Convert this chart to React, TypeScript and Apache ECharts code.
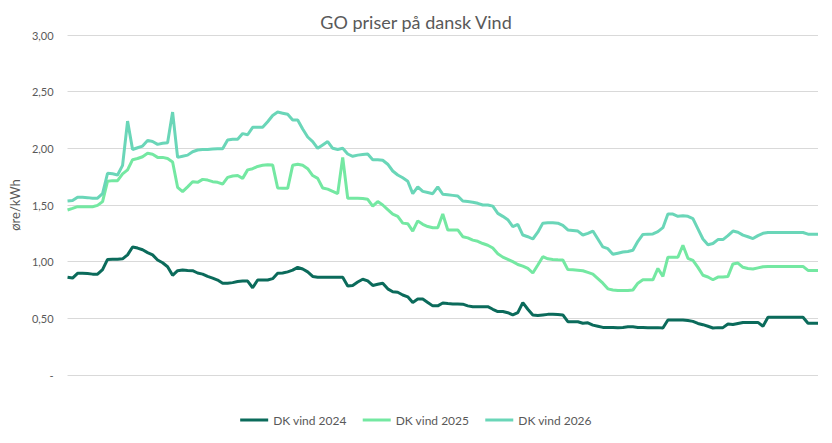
import React, { useEffect, useRef } from "react";
import * as echarts from "echarts";

const seriesNames = ["DK vind 2024", "DK vind 2025", "DK vind 2026"];

const dk2024 = [
  0.862, 0.855, 0.897, 0.897, 0.895, 0.89, 0.89, 0.93, 1.02, 1.021,
  1.021, 1.025, 1.06, 1.13, 1.12, 1.105, 1.08, 1.06, 1.015, 0.99,
  0.955, 0.88, 0.92, 0.926, 0.922, 0.92, 0.9, 0.89, 0.87, 0.855,
  0.838, 0.81, 0.809, 0.815, 0.825, 0.829, 0.829, 0.77, 0.838, 0.838,
  0.838, 0.85, 0.897, 0.9, 0.91, 0.925, 0.95, 0.935, 0.91, 0.87,
  0.862, 0.862, 0.862, 0.862, 0.862, 0.862, 0.785, 0.79, 0.82, 0.845,
  0.83, 0.79, 0.8, 0.81, 0.76, 0.735, 0.73, 0.706, 0.69, 0.64,
  0.67, 0.67, 0.64, 0.61, 0.61, 0.635, 0.63, 0.627, 0.627, 0.625,
  0.61, 0.603, 0.603, 0.603, 0.603, 0.58, 0.56, 0.56, 0.55, 0.53,
  0.55, 0.638, 0.58, 0.53, 0.525, 0.53, 0.535, 0.535, 0.533, 0.53,
  0.47, 0.47, 0.47, 0.457, 0.46, 0.44, 0.43, 0.42, 0.42, 0.42,
  0.418, 0.42, 0.425, 0.425, 0.42, 0.42, 0.418, 0.418, 0.418, 0.415,
  0.485, 0.485, 0.485, 0.485, 0.48, 0.473, 0.455, 0.444, 0.43, 0.415,
  0.418, 0.418, 0.45, 0.445, 0.455, 0.464, 0.464, 0.464, 0.464, 0.43,
  0.509, 0.509, 0.509, 0.509, 0.509, 0.509, 0.509, 0.509, 0.456, 0.456,
  0.456,
];

const dk2025 = [
  1.456, 1.47, 1.485, 1.485, 1.485, 1.485, 1.497, 1.53, 1.71, 1.715,
  1.715, 1.775, 1.81, 1.9, 1.91, 1.926, 1.956, 1.947, 1.92, 1.92,
  1.91, 1.88, 1.656, 1.618, 1.66, 1.705, 1.7, 1.726, 1.72, 1.706,
  1.7, 1.685, 1.744, 1.756, 1.76, 1.735, 1.81, 1.82, 1.84, 1.85,
  1.855, 1.853, 1.65, 1.647, 1.647, 1.85, 1.86, 1.85, 1.82, 1.76,
  1.735, 1.65, 1.64, 1.62, 1.6, 1.92, 1.56, 1.56, 1.56, 1.558,
  1.55, 1.49, 1.53, 1.5, 1.46, 1.42, 1.4, 1.34, 1.335, 1.27,
  1.36, 1.33, 1.31, 1.3, 1.3, 1.42, 1.28, 1.28, 1.28, 1.22,
  1.21, 1.19, 1.18, 1.16, 1.145, 1.12, 1.07, 1.04, 1.02, 1.0,
  0.975, 0.96, 0.94, 0.9, 0.97, 1.044, 1.025, 1.02, 1.017, 1.015,
  0.93, 0.928, 0.925, 0.92, 0.905, 0.89, 0.85, 0.81, 0.76, 0.75,
  0.745, 0.745, 0.745, 0.75, 0.81, 0.84, 0.84, 0.84, 0.94, 0.87,
  1.04, 1.04, 1.04, 1.145, 1.03, 1.012, 0.95, 0.88, 0.865, 0.84,
  0.864, 0.864, 0.87, 0.98, 0.988, 0.95, 0.94, 0.935, 0.945, 0.955,
  0.958, 0.958, 0.958, 0.958, 0.958, 0.958, 0.958, 0.958, 0.923, 0.923,
  0.923,
];

const dk2026 = [
  1.535, 1.54, 1.568, 1.568, 1.565, 1.56, 1.56, 1.6, 1.78, 1.775,
  1.765, 1.85, 2.24, 1.99, 2.005, 2.02, 2.07, 2.06, 2.035, 2.045,
  2.05, 2.32, 1.92, 1.93, 1.94, 1.97, 1.985, 1.99, 1.99, 1.995,
  1.997, 1.997, 2.074, 2.08, 2.08, 2.13, 2.12, 2.185, 2.185, 2.185,
  2.235, 2.29, 2.32, 2.31, 2.3, 2.25, 2.25, 2.17, 2.1, 2.06,
  2.0, 2.03, 2.06, 2.0, 1.99, 2.0, 1.95, 1.93, 1.94, 1.945,
  1.95, 1.9, 1.9, 1.895, 1.86, 1.8, 1.765, 1.74, 1.71, 1.6,
  1.66, 1.62, 1.61, 1.6, 1.66, 1.595, 1.59, 1.585, 1.58, 1.535,
  1.53, 1.525, 1.515, 1.5, 1.5, 1.49, 1.426, 1.4, 1.37, 1.31,
  1.33, 1.235, 1.22, 1.2, 1.26, 1.34, 1.344, 1.344, 1.34, 1.32,
  1.28, 1.275, 1.27, 1.235, 1.25, 1.27, 1.2, 1.13, 1.115, 1.065,
  1.075, 1.085, 1.09, 1.1, 1.18, 1.24, 1.243, 1.245, 1.265, 1.3,
  1.42, 1.42, 1.4, 1.405, 1.4, 1.38, 1.29, 1.2, 1.15, 1.16,
  1.195, 1.195, 1.23, 1.27, 1.26, 1.234, 1.22, 1.204, 1.23, 1.25,
  1.257, 1.257, 1.257, 1.257, 1.257, 1.257, 1.257, 1.257, 1.243, 1.243,
  1.243,
];

const categories = dk2024.map((_, i) => String(i + 1));

const yTicks = [0, 0.5, 1, 1.5, 2, 2.5, 3];

const colors = ["#0b6b5b", "#74e8a2", "#6ad6b8"];

export default function App() {
  const ref = useRef<HTMLDivElement>(null);

  useEffect(() => {
    document.body.style.margin = "0";
    if (!ref.current) return;
    const chart = echarts.init(ref.current, null, { renderer: "svg" });
    const font = "Lato, 'Open Sans', sans-serif";
    chart.setOption({
      animation: false,
      color: colors,
      textStyle: { fontFamily: font },
      title: {
        text: "GO priser på dansk Vind",
        left: "center",
        top: 8,
        textStyle: { fontSize: 18, fontWeight: "normal", color: "#595959", fontFamily: font },
      },
      legend: {
        bottom: 12,
        left: "center",
        icon: "rect",
        itemWidth: 28,
        itemHeight: 3,
        itemGap: 16,
        data: seriesNames,
        textStyle: { fontSize: 12, color: "#595959", fontFamily: font },
      },
      grid: { left: 64, right: 14, top: 35, bottom: 68 },
      xAxis: {
        type: "category",
        data: categories,
        boundaryGap: false,
        axisLine: { show: false },
        axisTick: { show: false },
        axisLabel: { show: false },
        splitLine: { show: false },
      },
      yAxis: {
        type: "value",
        min: yTicks[0],
        max: yTicks[yTicks.length - 1],
        interval: 0.5,
        name: "øre/kWh",
        nameLocation: "middle",
        nameGap: 46,
        nameTextStyle: { fontSize: 13, color: "#595959", fontFamily: font },
        axisLine: { show: false },
        axisTick: { show: false },
        axisLabel: {
          margin: 14,
          fontSize: 11,
          color: "#595959",
          fontFamily: font,
          formatter: (v: number) => (v === 0 ? "-" : v.toFixed(2).replace(".", ",")),
        },
        splitLine: { lineStyle: { color: "#d9d9d9", width: 1 } },
      },
      series: [
        { name: seriesNames[0], data: dk2024 },
        { name: seriesNames[1], data: dk2025 },
        { name: seriesNames[2], data: dk2026 },
      ].map((s) => ({
        ...s,
        type: "line",
        showSymbol: false,
        symbol: "none",
        lineStyle: { width: 3 },
        emphasis: { disabled: true },
      })),
    });
    return () => chart.dispose();
  }, []);

  return <div ref={ref} style={{ width: 832, height: 443 }} />;
}
